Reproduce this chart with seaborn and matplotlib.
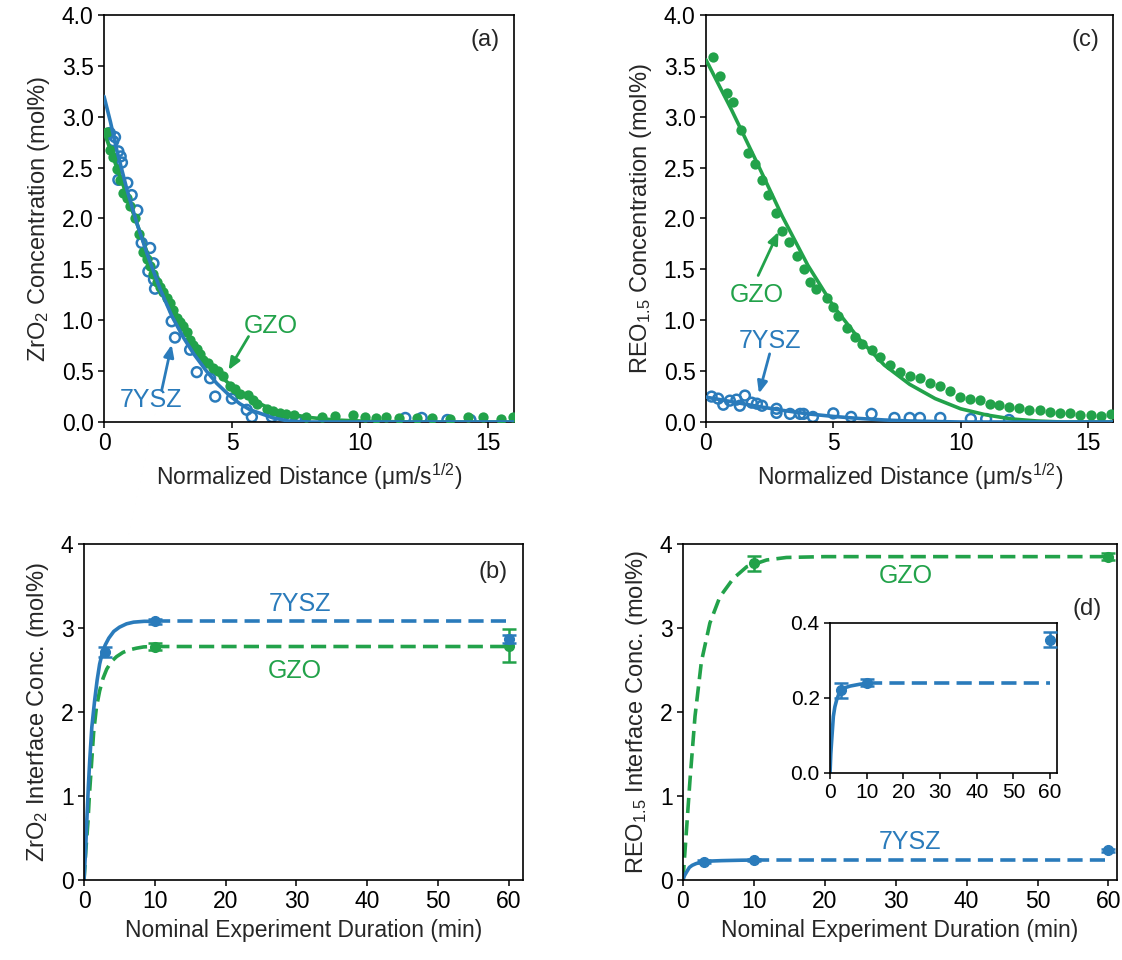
import matplotlib
matplotlib.use("Agg")
import matplotlib.pyplot as plt
import seaborn as sns

BLUE = "#2a7bbb"
GREEN = "#22a24a"

# ---- panel (a): ZrO2 profiles ----
a_gzo_x = [0.13, 0.23, 0.36, 0.5, 0.62, 0.75, 0.88, 1.02, 1.21, 1.35, 1.54, 1.67, 1.8, 1.93, 2.06,
           2.19, 2.32, 2.45, 2.58, 2.71, 2.84, 2.97, 3.1, 3.23, 3.36, 3.49, 3.62, 3.75, 3.88, 4.05,
           4.27, 4.46, 4.66, 4.92, 5.1, 5.31, 5.6, 5.8, 5.96, 6.36, 6.6, 6.88, 7.1, 7.4, 7.9,
           8.5, 9.0, 9.7, 10.2, 10.6, 11.0, 11.5, 12.2, 12.8, 13.5, 14.2, 14.8, 15.5, 15.95]
a_gzo_y = [2.85, 2.67, 2.6, 2.49, 2.38, 2.25, 2.2, 2.12, 2.0, 1.85, 1.67, 1.6, 1.53, 1.45, 1.38,
           1.33, 1.28, 1.22, 1.17, 1.1, 1.02, 0.98, 0.94, 0.88, 0.81, 0.76, 0.72, 0.67, 0.61, 0.58,
           0.53, 0.5, 0.45, 0.35, 0.32, 0.28, 0.27, 0.22, 0.18, 0.13, 0.11, 0.09, 0.08, 0.07, 0.05,
           0.05, 0.06, 0.07, 0.05, 0.04, 0.05, 0.04, 0.04, 0.04, 0.03, 0.05, 0.05, 0.03, 0.05]
a_ysz_x = [0.23, 0.36, 0.43, 0.56, 0.56, 0.65, 0.7, 0.91, 1.08, 1.3, 1.47, 1.73, 1.8, 1.93, 1.95,
           1.99, 2.64, 2.77, 3.36, 3.62, 4.14, 4.34, 4.99, 5.57, 5.77, 6.55, 7.5, 11.76, 12.4, 13.4, 14.3]
a_ysz_y = [2.84, 2.76, 2.8, 2.66, 2.38, 2.61, 2.55, 2.35, 2.23, 2.08, 1.76, 1.48, 1.71, 1.56, 1.4,
           1.31, 0.99, 0.83, 0.71, 0.49, 0.43, 0.25, 0.23, 0.12, 0.05, 0.05, 0.02, 0.04, 0.04, 0.02, 0.02]
a_ysz_fit_x = [0, 0.25, 0.5, 0.9, 1.3, 1.7, 2.2, 2.65, 3.1, 3.5, 4.0, 4.4, 4.9, 5.3, 5.7, 6.1, 6.6, 7.2, 8, 16]
a_ysz_fit_y = [3.2, 2.95, 2.67, 2.28, 1.94, 1.64, 1.3, 1.04, 0.83, 0.67, 0.5, 0.38, 0.26, 0.18, 0.12,
               0.085, 0.04, 0.01, 0.0, 0.0]
a_gzo_fit_x = [0, 0.5, 1, 1.5, 2, 2.5, 3, 3.5, 4, 4.5, 5, 5.5, 6, 6.5, 7, 8, 9, 10, 12, 16]
a_gzo_fit_y = [2.85, 2.5, 2.15, 1.8, 1.43, 1.2, 0.98, 0.77, 0.6, 0.46, 0.35, 0.26, 0.19, 0.13, 0.09,
               0.045, 0.02, 0.01, 0.0, 0.0]

# ---- panel (c): REO1.5 profiles ----
c_gzo_x = [0.29, 0.55, 0.81, 1.07, 1.37, 1.66, 1.92, 2.19, 2.45, 2.75, 3.0, 3.27, 3.56, 3.85, 4.08,
           4.34, 4.74, 5.0, 5.2, 5.53, 5.86, 6.12, 6.51, 6.84, 7.23, 7.62, 8.0, 8.4, 8.8, 9.19,
           9.58, 9.97, 10.36, 10.76, 11.15, 11.5, 11.9, 12.3, 12.7, 13.1, 13.5, 13.9, 14.3, 14.7, 15.1,
           15.5, 15.9]
c_gzo_y = [3.59, 3.40, 3.23, 3.14, 2.87, 2.64, 2.54, 2.38, 2.23, 2.05, 1.88, 1.77, 1.63, 1.50, 1.38,
           1.31, 1.22, 1.13, 1.04, 0.92, 0.84, 0.77, 0.71, 0.64, 0.56, 0.49, 0.45, 0.43, 0.38, 0.35,
           0.30, 0.25, 0.23, 0.22, 0.18, 0.17, 0.15, 0.14, 0.12, 0.12, 0.10, 0.09, 0.09, 0.07, 0.07,
           0.06, 0.08]
c_ysz_x = [0.22, 0.48, 0.68, 0.94, 1.2, 1.33, 1.53, 1.8, 2.0, 2.2, 2.77, 2.77, 3.3, 3.7, 3.83,
           4.2, 5.0, 5.7, 6.5, 7.4, 8.0, 8.4, 9.2, 10.4, 11.0, 11.9]
c_ysz_y = [0.25, 0.23, 0.17, 0.21, 0.22, 0.16, 0.26, 0.19, 0.18, 0.16, 0.13, 0.09, 0.08, 0.08, 0.08,
           0.05, 0.085, 0.05, 0.08, 0.04, 0.04, 0.04, 0.04, 0.03, 0.03, 0.02]
c_fit_x = [0, 1, 2, 3, 4, 5, 6, 7, 8, 9, 10, 11, 12, 13, 14, 16]
c_gzo_fit_y = [3.56, 3.07, 2.55, 2.02, 1.54, 1.14, 0.82, 0.56, 0.37, 0.23, 0.13, 0.07, 0.03, 0.01, 0.0, 0.0]
c_ysz_fit_y = [0.245, 0.2, 0.155, 0.115, 0.08, 0.055, 0.035, 0.02, 0.01, 0.005, 0.0, 0.0, 0.0, 0.0, 0.0, 0.0]

# ---- panel (b): ZrO2 interface concentration ----
b_ysz_t = [3, 10, 60]
b_ysz_c = [2.71, 3.08, 2.87]
b_ysz_err = [0.06, 0.03, 0.05]
b_gzo_t = [10, 60]
b_gzo_c = [2.78, 2.79]
b_gzo_err = [0.04, 0.2]
b_ysz_fit_t = [0, 0.2, 0.4, 0.6, 0.8, 1.1, 1.5, 1.85, 2.2, 2.6, 3.0, 3.5, 4.2, 5.0, 6.0, 7.0, 8.5, 10]
b_ysz_fit_c = [0, 0.32, 0.72, 1.1, 1.42, 1.82, 2.14, 2.38, 2.57, 2.71, 2.8, 2.88, 2.96, 3.01, 3.05,
               3.07, 3.08, 3.08]
b_ysz_dash_t = [10, 60]
b_ysz_dash_c = [3.08, 3.08]
b_gzo_fit_t = [0, 0.25, 0.56, 0.75, 1.03, 1.35, 1.74, 2.2, 2.68, 3.2, 3.85, 4.6, 5.5, 6.4, 7.4, 8.4, 9.5, 60]
b_gzo_fit_c = [0, 0.35, 0.7, 1.0, 1.35, 1.75, 2.05, 2.25, 2.4, 2.51, 2.6, 2.66, 2.71, 2.74, 2.76,
               2.775, 2.78, 2.78]

# ---- panel (d): REO1.5 interface concentration ----
d_ysz_t = [3, 10, 60]
d_ysz_c = [0.22, 0.24, 0.355]
d_ysz_err = [0.02, 0.01, 0.02]
d_gzo_t = [10, 60]
d_gzo_c = [3.77, 3.85]
d_gzo_err = [0.09, 0.04]
d_gzo_fit_t = [0, 0.5, 1.0, 1.7, 2.6, 3.8, 5.2, 7.1, 9.0, 11.8, 14.6, 20, 60]
d_gzo_fit_c = [0, 0.6, 1.2, 1.95, 2.6, 3.06, 3.37, 3.59, 3.73, 3.81, 3.84, 3.85, 3.85]
d_ysz_fit_t = [0, 0.2, 0.45, 0.9, 1.3, 1.8, 2.4, 3.2, 4.2, 5.5, 8.2, 10]
d_ysz_fit_c = [0, 0.05, 0.087, 0.15, 0.175, 0.194, 0.21, 0.22, 0.227, 0.231, 0.236, 0.238]
d_ysz_dash_t = [10, 60]
d_ysz_dash_c = [0.238, 0.238]

sns.set_theme(style="ticks")
plt.rcParams["font.family"] = ["Liberation Sans", "DejaVu Sans"]
plt.rcParams["mathtext.default"] = "regular"
plt.rcParams["axes.edgecolor"] = "black"
plt.rcParams["axes.linewidth"] = 1.2
plt.rcParams["xtick.color"] = "black"
plt.rcParams["ytick.color"] = "black"
plt.rcParams["xtick.major.size"] = 4
plt.rcParams["ytick.major.size"] = 4
plt.rcParams["xtick.major.width"] = 1.1
plt.rcParams["ytick.major.width"] = 1.1

TICK_FS = 16.5
XLAB_FS = 16.5
YLAB_FS = 17
ANN_FS = 18
DASH = (0, (4.2, 2.0))
LW = 2.6

fig = plt.figure(figsize=(11.22, 9.6), dpi=100)
ax_a = fig.add_axes([0.0927, 0.5604, 0.3654, 0.424])
ax_c = fig.add_axes([0.6292, 0.5604, 0.3632, 0.424])
ax_b = fig.add_axes([0.0749, 0.0833, 0.3913, 0.350])
ax_d = fig.add_axes([0.6087, 0.0833, 0.3868, 0.350])
ax_in = fig.add_axes([0.7398, 0.1951, 0.2026, 0.1563])


def arrow(ax, head, tail, color):
    ax.annotate("", xy=head, xytext=tail,
                arrowprops=dict(arrowstyle="-|>,head_width=0.25,head_length=0.6",
                                color=color, lw=2.0, shrinkA=0, shrinkB=0))


EB = dict(fmt="o", ms=7, capsize=5, elinewidth=1.8, capthick=1.8)

# (a)
sns.scatterplot(x=a_ysz_x, y=a_ysz_y, ax=ax_a, s=50, facecolor="none", edgecolor=BLUE, linewidth=1.8, zorder=2)
sns.scatterplot(x=a_gzo_x, y=a_gzo_y, ax=ax_a, s=55, color=GREEN, linewidth=0, zorder=3)
sns.lineplot(x=a_gzo_fit_x, y=a_gzo_fit_y, ax=ax_a, color=GREEN, lw=LW, zorder=4)
sns.lineplot(x=a_ysz_fit_x, y=a_ysz_fit_y, ax=ax_a, color=BLUE, lw=LW, zorder=4)
ax_a.text(6.5, 0.94, "GZO", color=GREEN, fontsize=ANN_FS, ha="center", va="center")
arrow(ax_a, (4.86, 0.51), (5.64, 0.84), GREEN)
ax_a.text(1.82, 0.22, "7YSZ", color=BLUE, fontsize=ANN_FS, ha="center", va="center")
arrow(ax_a, (2.64, 0.76), (2.25, 0.31), BLUE)
ax_a.text(0.965, 0.965, "(a)", transform=ax_a.transAxes, fontsize=17, ha="right", va="top")
ax_a.set_ylabel("ZrO$_2$ Concentration (mol%)", fontsize=YLAB_FS, labelpad=7)

# (c)
sns.scatterplot(x=c_ysz_x, y=c_ysz_y, ax=ax_c, s=50, facecolor="none", edgecolor=BLUE, linewidth=1.8, zorder=2)
sns.scatterplot(x=c_gzo_x, y=c_gzo_y, ax=ax_c, s=55, color=GREEN, linewidth=0, zorder=3)
sns.lineplot(x=c_fit_x, y=c_gzo_fit_y, ax=ax_c, color=GREEN, lw=LW, zorder=4)
sns.lineplot(x=c_fit_x, y=c_ysz_fit_y, ax=ax_c, color=BLUE, lw=LW, zorder=4)
ax_c.text(2.0, 1.25, "GZO", color=GREEN, fontsize=ANN_FS, ha="center", va="center")
arrow(ax_c, (2.85, 1.87), (2.05, 1.44), GREEN)
ax_c.text(2.53, 0.80, "7YSZ", color=BLUE, fontsize=ANN_FS, ha="center", va="center")
arrow(ax_c, (2.08, 0.28), (2.5, 0.67), BLUE)
ax_c.text(0.965, 0.965, "(c)", transform=ax_c.transAxes, fontsize=17, ha="right", va="top")
ax_c.set_ylabel("REO$_{1.5}$ Concentration (mol%)", fontsize=YLAB_FS, labelpad=7)

for ax in (ax_a, ax_c):
    ax.set_xlim(0, 16)
    ax.set_ylim(0, 4)
    ax.set_xticks([0, 5, 10, 15])
    ax.set_yticks([0, 0.5, 1, 1.5, 2, 2.5, 3, 3.5, 4])
    ax.set_yticklabels([f"{v:.1f}" for v in [0, 0.5, 1, 1.5, 2, 2.5, 3, 3.5, 4]])
    ax.set_xlabel("Normalized Distance (μm/s$^{1/2}$)", fontsize=XLAB_FS)

# (b)
sns.lineplot(x=b_gzo_fit_t, y=b_gzo_fit_c, ax=ax_b, color=GREEN, lw=LW, linestyle=DASH)
sns.lineplot(x=b_ysz_fit_t, y=b_ysz_fit_c, ax=ax_b, color=BLUE, lw=LW)
sns.lineplot(x=b_ysz_dash_t, y=b_ysz_dash_c, ax=ax_b, color=BLUE, lw=LW, linestyle=DASH)
ax_b.errorbar(b_gzo_t, b_gzo_c, yerr=b_gzo_err, color=GREEN, zorder=4, **EB)
ax_b.errorbar(b_ysz_t, b_ysz_c, yerr=b_ysz_err, color=BLUE, zorder=5, **EB)
ax_b.text(30.5, 3.29, "7YSZ", color=BLUE, fontsize=ANN_FS, ha="center", va="center")
ax_b.text(29.8, 2.49, "GZO", color=GREEN, fontsize=ANN_FS, ha="center", va="center")
ax_b.text(0.965, 0.95, "(b)", transform=ax_b.transAxes, fontsize=17, ha="right", va="top")
ax_b.set_xlim(0, 62)
ax_b.set_ylabel("ZrO$_2$ Interface Conc. (mol%)", fontsize=YLAB_FS, labelpad=7)

# (d)
sns.lineplot(x=d_gzo_fit_t, y=d_gzo_fit_c, ax=ax_d, color=GREEN, lw=LW, linestyle=DASH)
sns.lineplot(x=d_ysz_fit_t, y=d_ysz_fit_c, ax=ax_d, color=BLUE, lw=LW)
sns.lineplot(x=d_ysz_dash_t, y=d_ysz_dash_c, ax=ax_d, color=BLUE, lw=LW, linestyle=DASH)
ax_d.errorbar(d_ysz_t, d_ysz_c, yerr=d_ysz_err, color=BLUE, zorder=5, **EB)
ax_d.errorbar(d_gzo_t, d_gzo_c, yerr=d_gzo_err, color=GREEN, zorder=5, **EB)
ax_d.text(31.4, 3.62, "GZO", color=GREEN, fontsize=ANN_FS, ha="center", va="center")
ax_d.text(32.0, 0.45, "7YSZ", color=BLUE, fontsize=ANN_FS, ha="center", va="center")
ax_d.text(0.965, 0.84, "(d)", transform=ax_d.transAxes, fontsize=17, ha="right", va="top")
ax_d.set_xlim(0, 61.2)
ax_d.set_ylabel("REO$_{1.5}$ Interface Conc. (mol%)", fontsize=YLAB_FS, labelpad=7)

for ax in (ax_b, ax_d):
    ax.set_ylim(0, 4)
    ax.set_xticks([0, 10, 20, 30, 40, 50, 60])
    ax.set_yticks([0, 1, 2, 3, 4])
    ax.set_xlabel("Nominal Experiment Duration (min)", fontsize=XLAB_FS)

# inset
sns.lineplot(x=d_ysz_fit_t, y=d_ysz_fit_c, ax=ax_in, color=BLUE, lw=LW)
sns.lineplot(x=d_ysz_dash_t, y=d_ysz_dash_c, ax=ax_in, color=BLUE, lw=LW, linestyle=DASH)
ax_in.errorbar(d_ysz_t, d_ysz_c, yerr=d_ysz_err, color=BLUE, zorder=5, **EB)
ax_in.set_xlim(0, 62)
ax_in.set_ylim(0, 0.4)
ax_in.set_xticks([0, 10, 20, 30, 40, 50, 60])
ax_in.set_yticks([0, 0.2, 0.4])
ax_in.set_yticklabels(["0.0", "0.2", "0.4"])
ax_in.tick_params(labelsize=15)
ax_in.set_xlabel("")
ax_in.set_ylabel("")

for ax in (ax_a, ax_c, ax_b, ax_d):
    ax.tick_params(labelsize=TICK_FS)

fig.savefig("out.png", dpi=100)
